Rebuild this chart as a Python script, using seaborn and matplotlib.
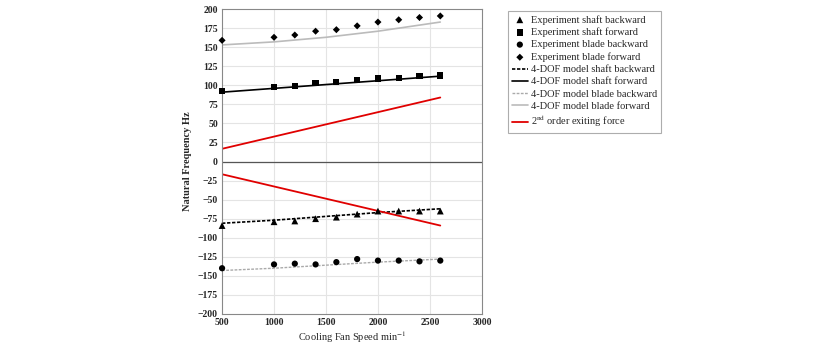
import numpy as np
import pandas as pd
import matplotlib
matplotlib.use("Agg")
import matplotlib.pyplot as plt
import seaborn as sns

speeds = [500, 1000, 1200, 1400, 1600, 1800, 2000, 2200, 2400, 2600]
exp_shaft_backward = [-84, -79, -78, -75, -73, -69, -65, -65, -65, -65]
exp_shaft_forward = [93, 98, 99, 103, 104, 107, 109, 110, 112, 113]
exp_blade_backward = [-140, -135, -134, -135, -132, -128, -130, -130, -131, -130]
exp_blade_forward = [159, 163, 166, 171, 173, 178, 183, 186, 189, 191]

model_speeds = [500, 1000, 1500, 2000, 2600]
model_shaft_backward = [-81, -77, -72, -67, -62]
model_shaft_forward = [91, 96, 101, 106, 112]
model_blade_backward = [-143, -140, -136, -132, -128]
model_blade_forward = [153, 157, 163, 171, 183]

force_speeds = [500, 2600]
force_pos = [16.7, 84]
force_neg = [-16.7, -84]

sns.set_theme(style="white")
plt.rcParams['font.family'] = ['Liberation Serif', 'DejaVu Serif']
plt.rcParams['mathtext.fontset'] = 'stix'

fig = plt.figure(figsize=(8.38, 3.5), dpi=100)
ax = fig.add_axes([0.265, 0.103, 0.310, 0.871])

for x in [1000, 1500, 2000, 2500]:
    ax.axvline(x, color="#e4e4e4", lw=0.8, zorder=0)
for y in range(-175, 200, 25):
    ax.axhline(y, color="#e4e4e4", lw=0.8, zorder=0)
ax.axhline(0, color="#555555", lw=0.9, zorder=1)

kw = dict(color="black", edgecolor="none", ax=ax, zorder=4, clip_on=False)
sns.scatterplot(x=speeds, y=exp_shaft_backward, marker="^", s=24, label="Experiment shaft backward", **kw)
sns.scatterplot(x=speeds, y=exp_shaft_forward, marker="s", s=20, label="Experiment shaft forward", **kw)
sns.scatterplot(x=speeds, y=exp_blade_backward, marker="o", s=20, label="Experiment blade backward", **kw)
sns.scatterplot(x=speeds, y=exp_blade_forward, marker="D", s=13, label="Experiment blade forward", **kw)

sns.lineplot(x=model_speeds, y=model_shaft_backward, color="black", lw=1.2, ls=(0, (2, 1)), ax=ax, label="4-DOF model shaft backward")
sns.lineplot(x=model_speeds, y=model_shaft_forward, color="black", lw=1.2, ax=ax, label="4-DOF model shaft forward")
sns.lineplot(x=model_speeds, y=model_blade_backward, color="#aaaaaa", lw=1.0, ls=(0, (2, 1)), ax=ax, label="4-DOF model blade backward")
sns.lineplot(x=model_speeds, y=model_blade_forward, color="#bbbbbb", lw=1.2, ax=ax, label="4-DOF model blade forward")
sns.lineplot(x=force_speeds, y=force_pos, color="#e00000", lw=1.3, ax=ax, label="2$^{\\mathrm{nd}}$ order exiting force")
sns.lineplot(x=force_speeds, y=force_neg, color="#e00000", lw=1.3, ax=ax, label="_nolegend_")

ax.set_xlim(500, 3000)
ax.set_ylim(-200, 200)
ax.set_xticks([500, 1000, 1500, 2000, 2500, 3000])
ax.set_yticks(range(-200, 201, 25))
ax.tick_params(labelsize=7, length=0, pad=3)
for lab in ax.get_xticklabels() + ax.get_yticklabels():
    lab.set_fontweight("bold")
ax.set_xlabel("Cooling Fan Speed min$^{-1}$", fontsize=7.5, labelpad=2)
ax.set_ylabel("Natural Frequency Hz", fontsize=7.5, fontweight="bold", labelpad=4)
for s in ax.spines.values():
    s.set_color("#888888")
    s.set_linewidth(0.8)

leg = ax.legend(loc="upper left", bbox_to_anchor=(1.08, 1.012), fontsize=7.5, frameon=True,
                fancybox=False, edgecolor="#999999", handlelength=1.5, handletextpad=0.3,
                labelspacing=0.28, borderpad=0.4, markerscale=1.0)
leg.get_frame().set_linewidth(0.8)

fig.savefig("out.png", dpi=100)
